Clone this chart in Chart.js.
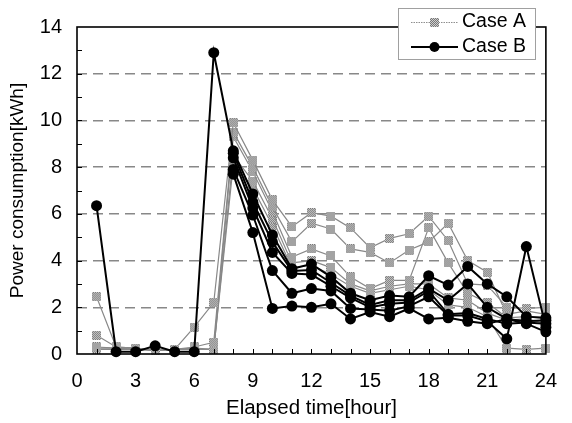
<!DOCTYPE html>
<html>
<head>
<meta charset="utf-8">
<script src="https://cdn.jsdelivr.net/npm/chart.js@4/dist/chart.umd.min.js"></script>
<style>
  html, body { margin: 0; padding: 0; background: #fff; }
  #wrap { width: 572px; height: 423px; }
</style>
</head>
<body>
<div id="wrap"><canvas id="chart" width="572" height="423"></canvas></div>
<script>
// hours on the x axis
const hours = [1, 2, 3, 4, 5, 6, 7, 8, 9, 10, 11, 12, 13, 14, 15, 16, 17, 18, 19, 20, 21, 22, 23, 24];

// Case A (grey squares)
const caseA1 = [2.45, 0.3, 0.25, 0.15, 0.2, 1.15, 2.2, 9.9, 8.3, 6.6, 5.45, 6.05, 5.9, 5.4, 4.55, 4.95, 5.15, 5.9, 4.85, 3.0, 2.95, 2.0, 1.95, 2.0];
const caseA2 = [0.8, 0.3, 0.25, 0.15, 0.2, 0.3, 0.5, 9.5, 8.0, 6.3, 4.8, 5.6, 5.35, 4.5, 4.35, 3.9, 4.45, 4.8, 5.6, 4.0, 3.5, 1.7, 1.85, 1.7];
const caseA3 = [0.3, 0.25, 0.25, 0.15, 0.2, 0.25, 0.2, 9.3, 7.8, 6.1, 4.15, 4.5, 4.2, 3.3, 2.8, 3.15, 3.15, 5.4, 3.9, 2.6, 2.2, 1.55, 1.6, 1.5];
const caseA4 = [0.25, 0.25, 0.2, 0.15, 0.2, 0.2, 0.2, 8.5, 7.4, 5.8, 3.9, 4.0, 3.7, 3.0, 2.7, 2.9, 3.0, 3.0, 2.4, 2.3, 1.75, 1.45, 1.5, 1.3];
const caseA5 = [0.2, 0.2, 0.2, 0.15, 0.2, 0.2, 0.2, 8.1, 7.1, 5.5, 3.7, 3.8, 3.4, 2.9, 2.6, 2.75, 2.9, 2.75, 2.1, 2.0, 1.6, 0.25, 0.2, 0.25];

// Case B (black circles)
const caseB1 = [6.35, 0.1, 0.1, 0.35, 0.1, 0.1, 12.9, 8.7, 6.85, 5.1, 3.65, 3.85, 3.3, 2.6, 2.3, 2.5, 2.45, 3.35, 2.95, 3.75, 3.0, 2.45, 1.6, 1.55];
const caseB2 = [null, null, null, null, null, null, null, 8.6, 6.5, 4.8, 3.55, 3.6, 3.05, 2.5, 2.1, 2.3, 2.3, 2.8, 2.3, 3.0, 2.0, 1.5, 1.4, 1.45];
const caseB3 = [null, null, null, null, null, null, null, 8.4, 6.25, 4.35, 3.45, 3.4, 2.9, 2.4, 2.0, 2.15, 2.2, 2.7, 1.7, 1.75, 1.5, 1.3, 1.35, 1.3];
const caseB4 = [null, null, null, null, null, null, null, 7.9, 5.95, 3.57, 2.6, 2.8, 2.7, 1.95, 1.9, 1.85, 2.05, 2.45, 1.65, 1.65, 1.4, 0.65, 4.6, 1.15];
const caseB5 = [null, null, null, null, null, null, null, 7.7, 5.2, 1.95, 2.05, 2.0, 2.15, 1.5, 1.8, 1.6, 1.95, 1.5, 1.55, 1.4, 1.3, 1.5, 1.3, 0.95];

const xTicks = [0, 3, 6, 9, 12, 15, 18, 21, 24];
const yTicks = [0, 2, 4, 6, 8, 10, 12, 14];

const FONT = 'Liberation Sans, Arial, sans-serif';

// checkered grey square used as the Case A marker
function makeSquare() {
  const c = document.createElement('canvas');
  c.width = 9; c.height = 9;
  const g = c.getContext('2d');
  for (let i = 0; i < 9; i++) {
    for (let j = 0; j < 9; j++) {
      g.fillStyle = (i + j) % 2 ? '#777' : '#cfcfcf';
      g.fillRect(i, j, 1, 1);
    }
  }
  return c;
}
const squareMark = makeSquare();

const toXY = arr => hours.map((h, i) => ({ x: h, y: arr[i] }));

const seriesA = [caseA1, caseA2, caseA3, caseA4, caseA5].map(arr => ({
  label: 'Case A',
  data: toXY(arr),
  borderColor: '#888',
  borderWidth: 1.2,
  pointStyle: squareMark,
  pointRadius: 4.5,
  clip: false
}));

const seriesB = [caseB1, caseB2, caseB3, caseB4, caseB5].map(arr => ({
  label: 'Case B',
  data: toXY(arr),
  borderColor: '#000',
  borderWidth: 2,
  pointStyle: 'circle',
  pointRadius: 5.5,
  pointBackgroundColor: '#000',
  pointBorderColor: '#000',
  pointBorderWidth: 0,
  clip: false
}));

// inward tick marks + frame
const framePlugin = {
  id: 'frame',
  afterDatasetsDraw(chart) {
    const { ctx, chartArea: a, scales: { x, y } } = chart;
    ctx.save();
    ctx.strokeStyle = '#000';
    ctx.lineWidth = 1;
    ctx.beginPath();
    for (let h = 1; h < 24; h++) {
      const px = Math.round(x.getPixelForValue(h)) + 0.5;
      ctx.moveTo(px, a.bottom);
      ctx.lineTo(px, a.bottom - 5);
    }
    for (let v = 1; v < 14; v++) {
      const py = Math.round(y.getPixelForValue(v)) + 0.5;
      ctx.moveTo(a.left, py);
      ctx.lineTo(a.left + 5, py);
    }
    ctx.stroke();
    ctx.lineWidth = 1.6;
    ctx.strokeRect(a.left, a.top, a.right - a.left, a.bottom - a.top);
    ctx.restore();
  }
};

// legend box drawn over the top-right corner
const legendPlugin = {
  id: 'boxLegend',
  afterDraw(chart) {
    const { ctx } = chart;
    ctx.save();
    ctx.fillStyle = '#fff';
    ctx.fillRect(398, 8, 137, 51);
    ctx.strokeStyle = '#a0a0a0';
    ctx.lineWidth = 1;
    ctx.strokeRect(398.5, 8.5, 137, 51);

    ctx.strokeStyle = '#8e8e8e';
    ctx.setLineDash([1.5, 1]);
    ctx.beginPath();
    ctx.moveTo(411, 22.5); ctx.lineTo(458, 22.5);
    ctx.stroke();
    ctx.setLineDash([]);
    ctx.drawImage(squareMark, 430, 18);

    ctx.strokeStyle = '#000';
    ctx.lineWidth = 2;
    ctx.beginPath();
    ctx.moveTo(411, 47); ctx.lineTo(458, 47);
    ctx.stroke();
    ctx.fillStyle = '#000';
    ctx.beginPath();
    ctx.arc(434.5, 47, 5, 0, Math.PI * 2);
    ctx.fill();

    ctx.font = '19.5px ' + FONT;
    ctx.textBaseline = 'middle';
    ctx.fillText('Case A', 462, 22);
    ctx.fillText('Case B', 462, 47);
    ctx.restore();
  }
};

new Chart(document.getElementById('chart'), {
  type: 'line',
  data: { datasets: [...seriesB, ...seriesA] },
  options: {
    responsive: false,
    animation: false,
    layout: { padding: { top: 25, right: 11, left: 0, bottom: 0 } },
    plugins: { legend: { display: false }, tooltip: { enabled: false } },
    elements: { line: { tension: 0 } },
    scales: {
      x: {
        type: 'linear',
        min: 0,
        max: 24,
        afterFit: s => { s.height = 69; },
        afterBuildTicks: s => { s.ticks = xTicks.map(v => ({ value: v })); },
        grid: { display: false, drawTicks: false },
        border: { display: false },
        ticks: { color: '#000', font: { family: FONT, size: 20 }, padding: 15, maxRotation: 0, autoSkip: false },
        title: { display: true, text: 'Elapsed time[hour]', color: '#000', font: { family: FONT, size: 20.5 }, padding: { top: 0, bottom: 2 } }
      },
      y: {
        min: 0,
        max: 14,
        afterFit: s => { s.width = 77; },
        afterBuildTicks: s => { s.ticks = yTicks.map(v => ({ value: v })); },
        grid: {
          drawTicks: false,
          lineWidth: 1.4,
          color: c => (c.tick && c.tick.value > 0 && c.tick.value < 14) ? '#888' : 'rgba(0,0,0,0)'
        },
        border: { display: false, dash: [10, 6] },
        ticks: { color: '#000', font: { family: FONT, size: 20 }, padding: 15 },
        title: { display: true, text: 'Power consumption[kWh]', color: '#000', font: { family: FONT, size: 19 }, padding: { top: 6, bottom: 0 } }
      }
    }
  },
  plugins: [framePlugin, legendPlugin]
});
</script>
</body>
</html>
